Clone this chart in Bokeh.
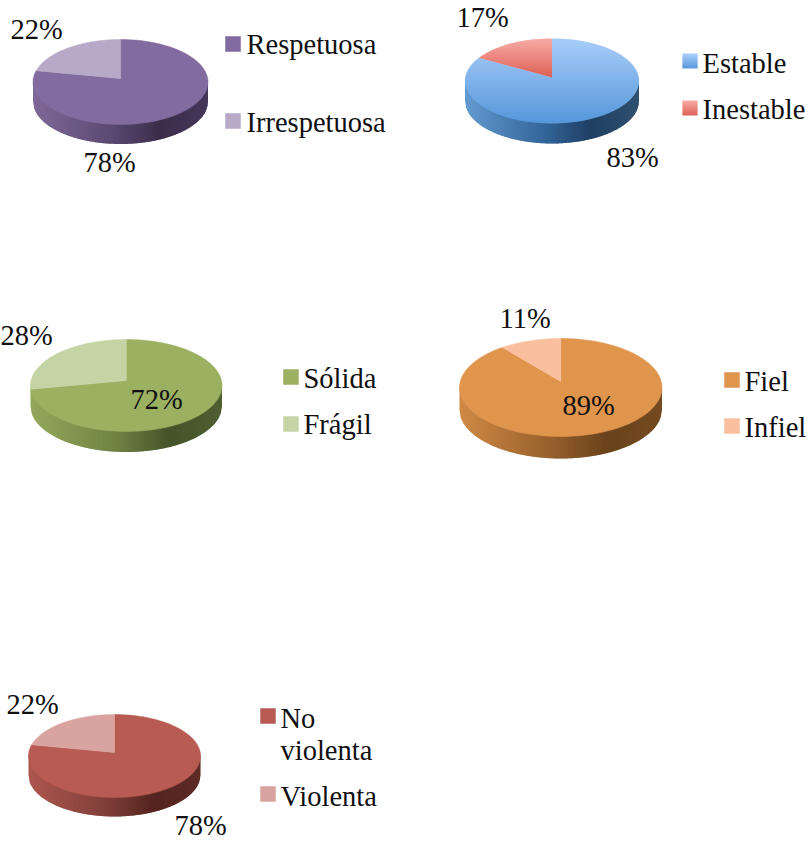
from bokeh.plotting import figure
from bokeh.models import Range1d
from bokeh.core.properties import value
from bokeh.embed import file_html
from bokeh.resources import INLINE
import numpy as np

# ---- data ----
respeto_labels = ["Respetuosa", "Irrespetuosa"]
respeto_values = [78, 22]
estable_labels = ["Estable", "Inestable"]
estable_values = [83, 17]
solida_labels = ["Sólida", "Frágil"]
solida_values = [72, 28]
fiel_labels = ["Fiel", "Infiel"]
fiel_values = [89, 11]
violencia_labels = ["No violenta", "Violenta"]
violencia_values = [78, 22]

FONT = "Liberation Serif"
SIZE = "28.5px"
INK = "#101010"
TEXT_LIFT = 9.5

# ---- layout and styling ----
# x0, x1, top, bottom of the top ellipse; bottom of the side; y of the apex
pies = [
    dict(vals=respeto_values, labs=respeto_labels, box=(32.5, 207.5, 39, 124, 143.5, 78),
         fills=[("#826b9f", "#826b9f"), ("#b7a9c7", "#b7a9c7")],
         side=("#7f6899", "#5b4971", "#3b2c4b", "#45375a"),
         sw=(225, [36, 113]), lab_xy=[(246, 53), (246, 131)],
         pct=[(83, 171), (10, 38)]),
    dict(vals=estable_values, labs=estable_labels, box=(464.5, 638.5, 38, 123, 143, 77),
         fills=[("#a8cdfa", "#5596da"), ("#f8aaa5", "#dc5f55")],
         side=("#639acf", "#33659a", "#1f3f63", "#30506f"),
         sw=(682, [53, 100]), lab_xy=[(702, 72), (702, 118)],
         pct=[(606, 166), (456, 26)]),
    dict(vals=solida_values, labs=solida_labels, box=(30, 221.5, 339, 431, 451.5, 380),
         fills=[("#9bb061", "#9bb061"), ("#c4d4a5", "#c4d4a5")],
         side=("#94a85c", "#6f8243", "#45542a", "#4f5f31"),
         sw=(283, [369, 416]), lab_xy=[(303, 387), (303, 433)],
         pct=[(130, 408), (0, 344)]),
    dict(vals=fiel_values, labs=fiel_labels, box=(459, 661.5, 338, 436, 458, 381),
         fills=[("#e0954d", "#e0954d"), ("#fabf9f", "#fabf9f")],
         side=("#cf8a45", "#96602c", "#6b431c", "#744a20"),
         sw=(724, [372, 418]), lab_xy=[(744, 390), (744, 436)],
         pct=[(562, 414), (499, 327)]),
    dict(vals=violencia_values, labs=violencia_labels, box=(28, 200, 714, 797, 816, 752),
         fills=[("#b85b53", "#b85b53"), ("#d9a3a0", "#d9a3a0")],
         side=("#ad574f", "#803f39", "#55241f", "#5e2b25"),
         sw=(260, [708, 786]), lab_xy=[(280, 727), (280, 805)],
         pct=[(174, 834.5), (6, 713)]),
]
SWATCH = 15
SIDE_STOPS = [0.0, 0.45, 0.72, 1.0]


def rgb(h):
    return np.array([int(h[i:i + 2], 16) for i in (1, 3, 5)], float)


def mix(stops, colors, t):
    ch = [np.interp(t, stops, [rgb(c)[k] for c in colors]) for k in range(3)]
    return "#%02x%02x%02x" % tuple(int(round(v)) for v in ch)


def clip_band(xs, ys, y0, y1):
    def clip(pts, keep, cross):
        out = []
        for i, a in enumerate(pts):
            b = pts[(i + 1) % len(pts)]
            if keep(a):
                out.append(a)
            if keep(a) != keep(b):
                t = (cross - a[1]) / (b[1] - a[1])
                out.append((a[0] + t * (b[0] - a[0]), cross))
        return out
    pts = list(zip(xs, ys))
    pts = clip(pts, lambda p: p[1] >= y0, y0)
    if pts:
        pts = clip(pts, lambda p: p[1] <= y1, y1)
    return [p[0] for p in pts], [p[1] for p in pts]


p = figure(width=810, height=842, x_range=Range1d(0, 810), y_range=Range1d(842, 0),
           output_backend="svg", toolbar_location=None, min_border=0,
           outline_line_color=None, background_fill_color="white",
           styles={"position": "absolute", "left": "0px", "top": "0px"})
p.axis.visible = False
p.grid.visible = False


def gradient_poly(xs, ys, top, bottom):
    if top == bottom:
        p.patch(xs, ys, fill_color=top, line_color=top, line_width=0.5)
        return
    lo, hi = min(ys), max(ys)
    fx, fy, fc = [], [], []
    for y in np.arange(lo, hi, 1.0):
        bx, by = clip_band(xs, ys, y, min(y + 1.6, hi))
        if bx:
            fx.append(bx)
            fy.append(by)
            fc.append(mix([0, 1], [top, bottom], (y - lo) / (hi - lo)))
    p.patches(fx, fy, fill_color=fc, line_color=None)


def put_text(x, y, s):
    p.text([x], [y - TEXT_LIFT], text=[s], text_font=value(FONT), text_font_size=SIZE,
           text_color=INK, text_baseline="middle", text_align="left")


for d in pies:
    x0, x1, t, b, base, apex = d["box"]
    cx, cy, rx, ry = (x0 + x1) / 2, (t + b) / 2, (x1 - x0) / 2, (b - t) / 2
    depth = base - b

    # side wall
    sx, sy, sc = [], [], []
    for xa in np.arange(x0, x1, 1.0):
        xb = min(xa + 1.6, x1)
        ya = cy + ry * np.sqrt(max(0, 1 - ((xa - cx) / rx) ** 2))
        yb = cy + ry * np.sqrt(max(0, 1 - ((xb - cx) / rx) ** 2))
        sx.append([xa, xb, xb, xa])
        sy.append([ya - 3, yb - 3, yb + depth, ya + depth])
        sc.append(mix(SIDE_STOPS, d["side"], (xa - x0) / (x1 - x0)))
    p.patches(sx, sy, fill_color=sc, line_color=None)

    # top wedges, swept clockwise from twelve o'clock around the apex
    total = sum(d["vals"])
    start = 0.0
    for val, (c0, c1) in zip(d["vals"], d["fills"]):
        end = start + val / total * 2 * np.pi
        th = np.linspace(start, end, 160)
        dx, dy = np.sin(th) * rx, -np.cos(th) * ry
        # ray from the apex to the rim of the ellipse
        A = (dx / rx) ** 2 + (dy / ry) ** 2
        B = 2 * (apex - cy) * dy / ry ** 2
        C = ((apex - cy) / ry) ** 2 - 1
        r = (-B + np.sqrt(B ** 2 - 4 * A * C)) / (2 * A)
        xs = [cx] + list(cx + r * dx)
        ys = [apex] + list(apex + r * dy)
        gradient_poly(xs, ys, c0, c1)
        start = end

    # labels and swatches
    for val, (px, py) in zip(d["vals"], d["pct"]):
        put_text(px, py, f"{val}%")
    sxx, sys_ = d["sw"]
    for lab, (c0, c1), sy0, (lx, ly) in zip(d["labs"], d["fills"], sys_, d["lab_xy"]):
        gradient_poly([sxx, sxx + SWATCH, sxx + SWATCH, sxx],
                      [sy0, sy0, sy0 + SWATCH, sy0 + SWATCH], c0, c1)
        for i, w in enumerate(lab.split(" ")):
            put_text(lx, ly + i * 32, w)

open("out.html", "w").write(file_html(p, INLINE))
